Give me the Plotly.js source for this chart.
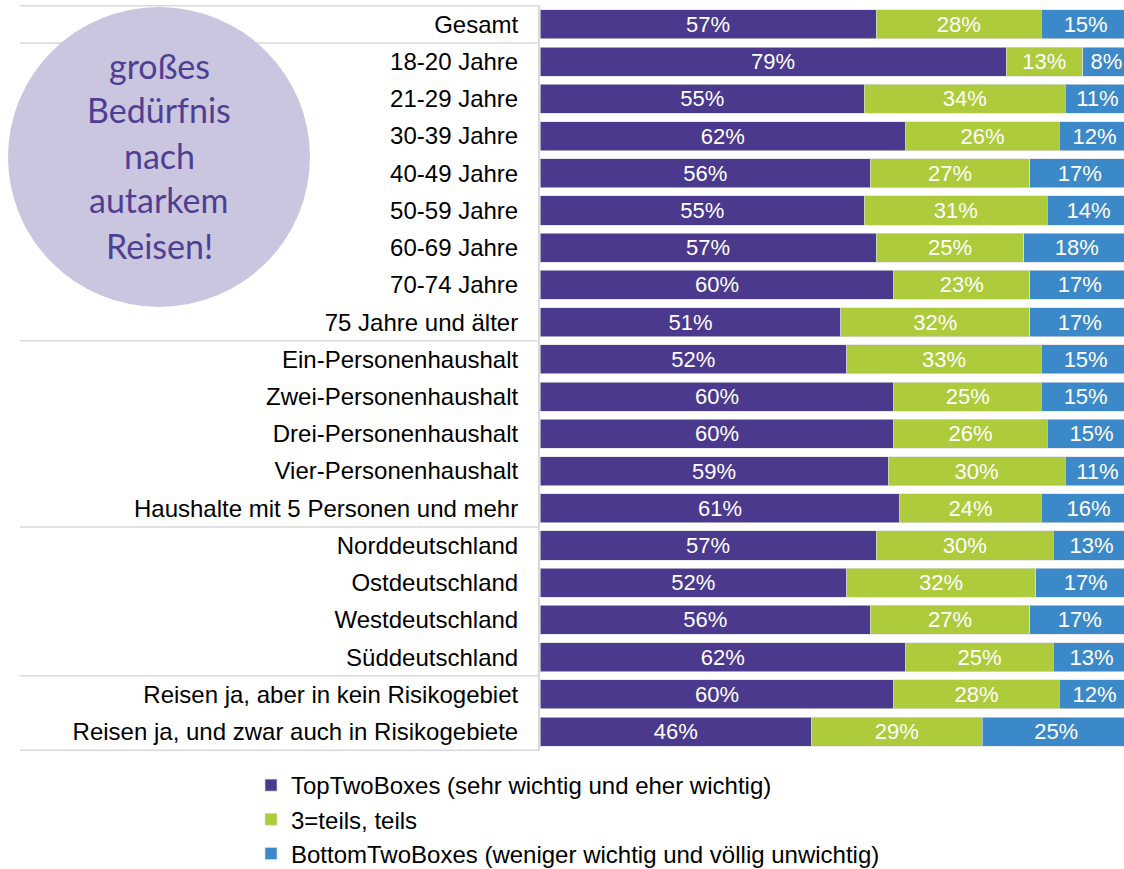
<!DOCTYPE html>
<html>
<head>
<meta charset="utf-8">
<script src="https://cdn.plot.ly/plotly-3.0.1.min.js"></script>
<style>html,body{margin:0;padding:0;background:#fff;}#chart{width:1124px;height:869px;}</style>
</head>
<body>
<div id="chart"></div>
<script>
const categories = ["Gesamt","18-20 Jahre","21-29 Jahre","30-39 Jahre","40-49 Jahre","50-59 Jahre","60-69 Jahre","70-74 Jahre","75 Jahre und älter","Ein-Personenhaushalt","Zwei-Personenhaushalt","Drei-Personenhaushalt","Vier-Personenhaushalt","Haushalte mit 5 Personen und mehr","Norddeutschland","Ostdeutschland","Westdeutschland","Süddeutschland","Reisen ja, aber in kein Risikogebiet","Reisen ja, und zwar auch in Risikogebiete"];
const topTwo = [57,79,55,62,56,55,57,60,51,52,60,60,59,61,57,52,56,62,60,46];
const teils = [28,13,34,26,27,31,25,23,32,33,25,26,30,24,30,32,27,25,28,29];
const bottomTwo = [15,8,11,12,17,14,18,17,17,15,15,15,11,16,13,17,17,13,12,25];
const seriesNames = ["TopTwoBoxes (sehr wichtig und eher wichtig)","3=teils, teils","BottomTwoBoxes (weniger wichtig und völlig unwichtig)"];
const bubbleLines = ["großes","Bedürfnis","nach","autarkem","Reisen!"];
const separatorsAfter = [0, 8, 13, 17];

const colors = ["#4B398E","#ADCB3A","#3C89C9"];
const font = "Liberation Sans, Arial, sans-serif";

function barTrace(vals, name, color){
  return {
    type: "bar", orientation: "h", y: categories, x: vals, name: name,
    marker: {color: color, line: {color: "rgba(220,220,230,0.8)", width: 0.8}},
    texttemplate: "%{x}%", textposition: "inside", insidetextanchor: "middle",
    textangle: 0, constraintext: "none",
    insidetextfont: {color: "#ffffff", size: 22, family: font},
    hoverinfo: "x+name"
  };
}
const data = [
  barTrace(topTwo, seriesNames[0], colors[0]),
  barTrace(teils, seriesNames[1], colors[1]),
  barTrace(bottomTwo, seriesNames[2], colors[2])
];

// pixel helpers (plot area: x 540..1124, y 5..751)
const L = 540, W = 584, T = 5, H = 746;
const px = v => (v - L) / W;
const py = v => (T + H - v) / H;

const lineColor = "#d9d9d9";
const shapes = [];
const bounds = [-0.5, 19.5].concat(separatorsAfter.map(i => i + 0.5));
bounds.forEach(b => shapes.push({type: "line", xref: "paper", yref: "y", x0: px(20), x1: 0, y0: b, y1: b, line: {color: lineColor, width: 1.5}, layer: "below"}));
shapes.push({type: "circle", xref: "paper", yref: "paper", x0: px(8), x1: px(310), y0: py(307), y1: py(7), fillcolor: "#CBC6E0", line: {width: 0}});

const annotations = bubbleLines.map((t, i) => ({
  xref: "paper", yref: "paper", x: px(159), y: py(65 + i * 45), text: t, showarrow: false,
  xanchor: "center", yanchor: "middle",
  font: {family: "Lato, Noto Sans, sans-serif", size: 34, color: "#4F3F93"}
}));

const layout = {
  width: 1124, height: 869,
  margin: {l: L, r: 0, t: T, b: 869 - T - H, pad: 0, autoexpand: false},
  paper_bgcolor: "#ffffff", plot_bgcolor: "#ffffff",
  barmode: "stack", bargap: 0.22,
  showlegend: true,
  legend: {orientation: "v", x: px(251), xanchor: "left", y: py(763), yanchor: "top",
           traceorder: "normal", font: {family: font, size: 24, color: "#000"}, tracegroupgap: 0,
           bgcolor: "rgba(0,0,0,0)"},
  xaxis: {range: [0, 99], showgrid: false, zeroline: false, showticklabels: false, showline: false, fixedrange: true, automargin: false},
  yaxis: {type: "category", autorange: "reversed", showgrid: false, zeroline: false,
          showline: true, linecolor: lineColor, linewidth: 2, automargin: false,
          ticks: "outside", ticklen: 15, tickcolor: "rgba(0,0,0,0)",
          tickfont: {family: font, size: 24, color: "#000"}, fixedrange: true},
  shapes: shapes,
  annotations: annotations,
  font: {family: font}
};

Plotly.newPlot("chart", data, layout, {displayModeBar: false, staticPlot: true});
</script>
</body>
</html>
